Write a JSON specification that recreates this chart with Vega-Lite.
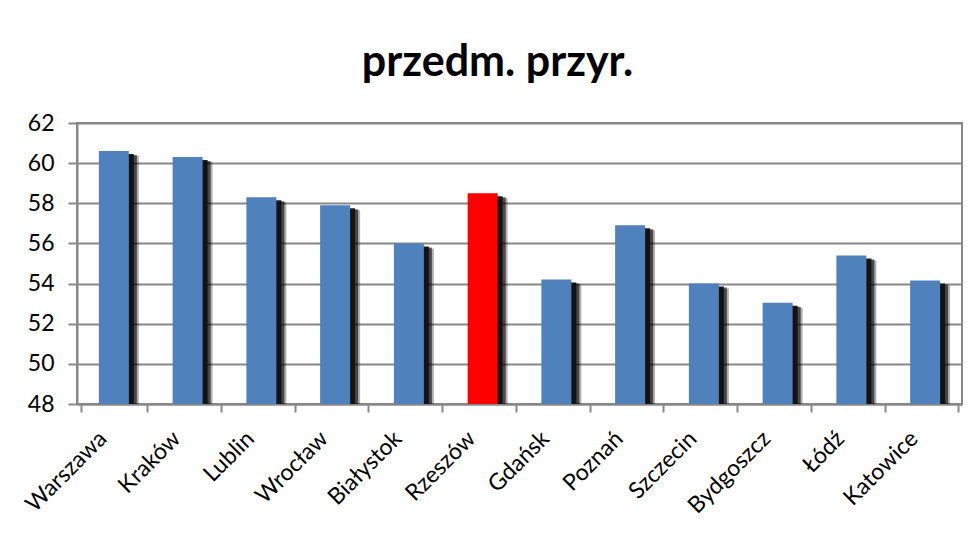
{
  "$schema": "https://vega.github.io/schema/vega-lite/v6.json",
  "autosize": {"type": "none"},
  "width": 885,
  "height": 281,
  "padding": {"left": 77, "top": 123, "right": 16, "bottom": 130},
  "background": "white",
  "title": {
    "text": "przedm. przyr.",
    "font": "Lato",
    "fontSize": 43,
    "fontWeight": "bold",
    "color": "black",
    "anchor": "middle",
    "dx": -22,
    "offset": 27
  },
  "data": {
    "values": [
      {"city": "Warszawa", "value": 60.6, "group": "other"},
      {"city": "Kraków", "value": 60.3, "group": "other"},
      {"city": "Lublin", "value": 58.3, "group": "other"},
      {"city": "Wrocław", "value": 57.9, "group": "other"},
      {"city": "Białystok", "value": 56.0, "group": "other"},
      {"city": "Rzeszów", "value": 58.5, "group": "highlight"},
      {"city": "Gdańsk", "value": 54.2, "group": "other"},
      {"city": "Poznań", "value": 56.9, "group": "other"},
      {"city": "Szczecin", "value": 54.0, "group": "other"},
      {"city": "Bydgoszcz", "value": 53.05, "group": "other"},
      {"city": "Łódź", "value": 55.4, "group": "other"},
      {"city": "Katowice", "value": 54.15, "group": "other"}
    ]
  },
  "encoding": {
    "x": {
      "field": "city",
      "type": "nominal",
      "sort": null,
      "title": null,
      "axis": {
        "labelAngle": -45,
        "labelFont": "Lato",
        "labelFontSize": 23,
        "labelColor": "black",
        "labelPadding": 15,
        "labelOffset": -19,
        "domainColor": "#888",
        "domainWidth": 2,
        "tickColor": "#888",
        "tickWidth": 2,
        "tickSize": 8,
        "tickBand": "extent"
      }
    },
    "y": {
      "field": "value",
      "type": "quantitative",
      "scale": {"domain": [48, 62], "zero": false, "nice": false},
      "title": null,
      "axis": {
        "values": [48, 50, 52, 54, 56, 58, 60, 62],
        "labelFont": "Lato",
        "labelFontSize": 23,
        "labelColor": "black",
        "labelPadding": 14,
        "domainColor": "#888",
        "domainWidth": 2,
        "tickColor": "#888",
        "tickWidth": 2,
        "tickSize": 9,
        "gridColor": "#888",
        "gridWidth": 2
      }
    },
    "y2": {"datum": 48}
  },
  "layer": [
    {"mark": {"type": "bar", "width": 30, "color": "#000", "opacity": 0.3, "xOffset": 10, "yOffset": 5}},
    {"mark": {"type": "bar", "width": 30, "color": "#000", "opacity": 0.6, "xOffset": 8, "yOffset": 4}},
    {"mark": {"type": "bar", "width": 30, "color": "#111", "opacity": 0.95, "xOffset": 5, "yOffset": 3}},
    {
      "mark": {"type": "bar", "width": 30},
      "encoding": {
        "color": {
          "field": "group",
          "type": "nominal",
          "scale": {"domain": ["other", "highlight"], "range": ["#4F81BD", "#FF0000"]},
          "legend": null
        }
      }
    }
  ],
  "config": {
    "view": {"stroke": "#888", "strokeWidth": 2}
  }
}
